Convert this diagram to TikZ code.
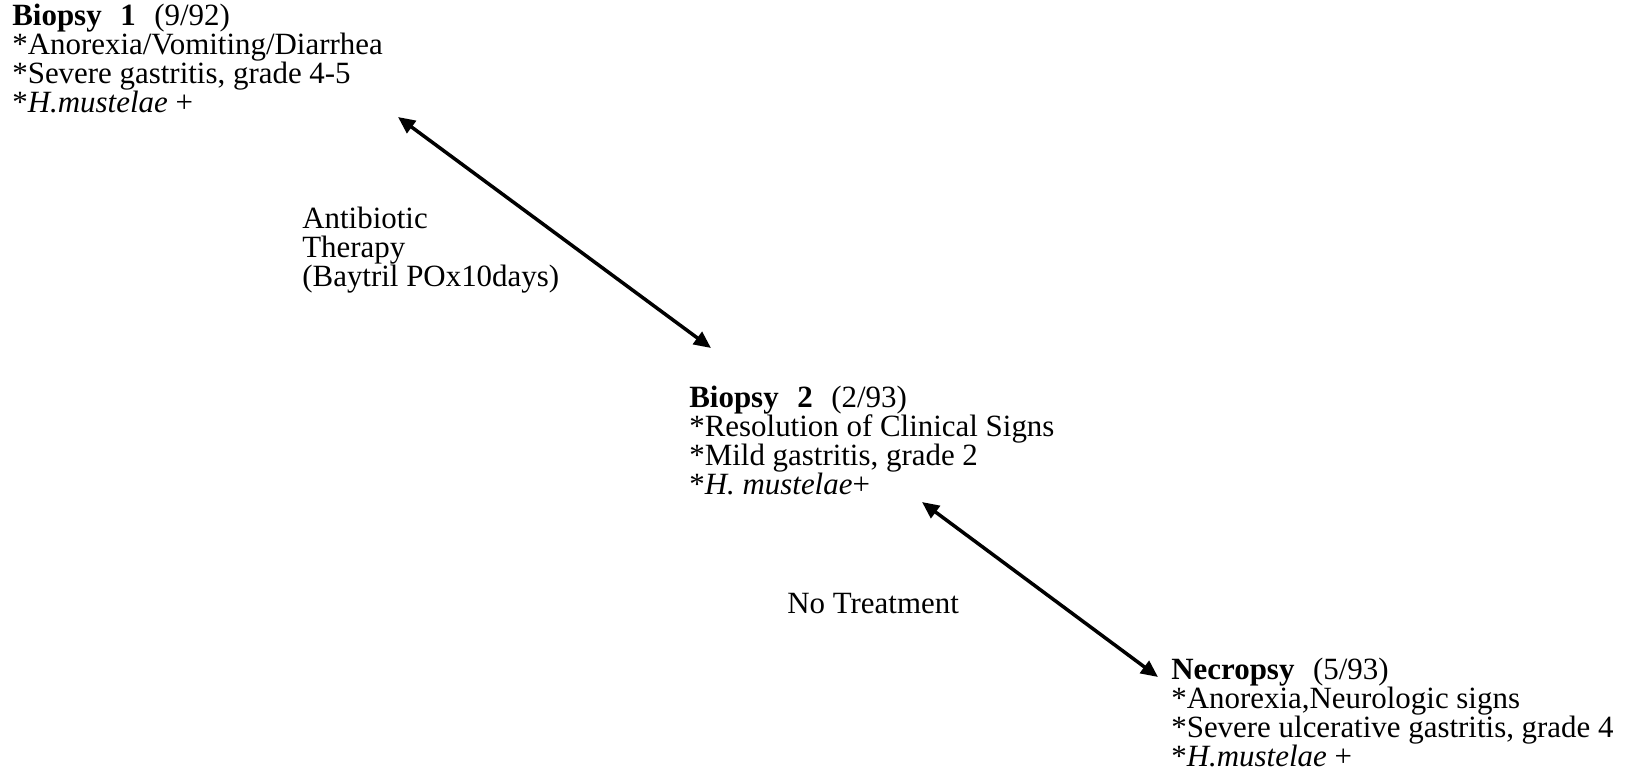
\documentclass[tikz,border=0pt]{standalone}
\usepackage{fontspec}
\setmainfont{Liberation Serif}
\usetikzlibrary{arrows.meta}

\begin{document}
\begin{tikzpicture}[x=0.02cm, y=-0.02cm,
  font=\fontsize{17.6}{16.5}\selectfont,
  block/.style={anchor=base west, align=left, inner sep=0pt},
  course/.style={anchor=base west, align=left, inner sep=0pt},
  link/.style={{Triangle[length=3.4mm,width=3mm]}-{Triangle[length=3.4mm,width=3mm]}, line width=0.07cm}]
  \useasboundingbox (0,0) rectangle (1641,782);
  % the three examinations (anchored at the last line)
  \node[block] (bx1) at (12,112) {\textbf{Biopsy\hspace{0.6em}1}\hspace{0.6em}(9/92)\\*Anorexia/Vomiting/Diarrhea\\*Severe gastritis, grade 4-5\\*\textit{H.mustelae} +};
  \node[block] (bx2) at (689,494) {\textbf{Biopsy\hspace{0.6em}2}\hspace{0.6em}(2/93)\\*Resolution of Clinical Signs\\*Mild gastritis, grade 2\\*\textit{H. mustelae}+};
  \node[block] (necro) at (1171,766) {\textbf{Necropsy}\hspace{0.6em}(5/93)\\*Anorexia,Neurologic signs\\*Severe ulcerative gastritis, grade 4\\*\textit{H.mustelae} +};
  % what happened in between
  \node[course] (abx) at (302,286) {Antibiotic\\Therapy\\(Baytril POx10days)};
  \node[course] (notx) at (787,613) {No Treatment};
  \coordinate (bx1end) at (398,117);
  \coordinate (bx2top) at (711,348);
  \coordinate (bx2end) at (922,502);
  \coordinate (necrotop) at (1158,677);
  \draw[link] (bx1end) -- (bx2top);
  \draw[link] (bx2end) -- (necrotop);
\end{tikzpicture}
\end{document}
